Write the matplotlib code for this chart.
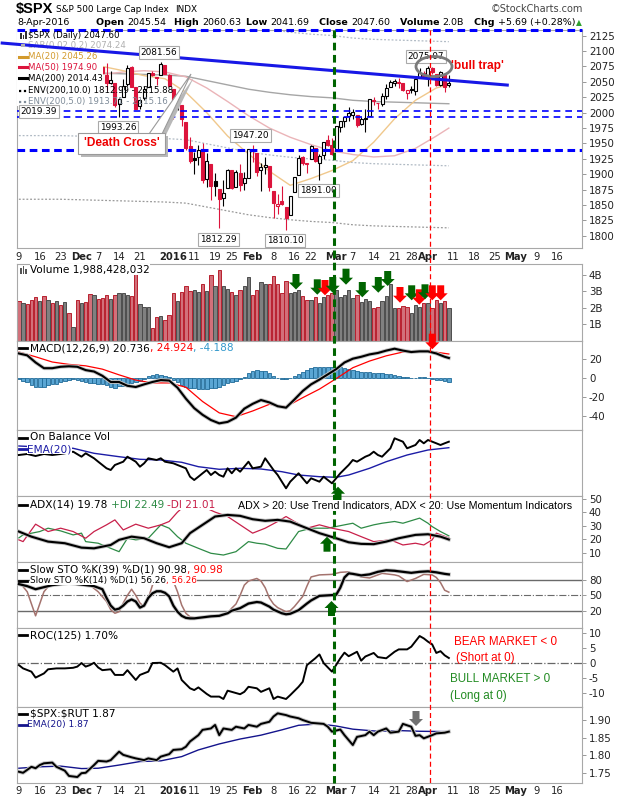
import matplotlib
matplotlib.use('Agg')
import matplotlib.pyplot as plt
import matplotlib.patches as mpatches
import matplotlib.transforms as mtransforms
import matplotlib.patheffects as pe
from matplotlib.lines import Line2D
import pandas as pd

plt.rcParams['font.family'] = ['DejaVu Sans']
plt.rcParams['axes.unicode_minus'] = False
plt.rcParams['text.parse_math'] = False

# ============================================================
# data  (session index 0 = 9-Nov-2015, 103 = 8-Apr-2016)
# ============================================================
holidays = pd.to_datetime(['2015-11-26', '2015-12-25', '2016-01-01', '2016-01-18',
                           '2016-02-15', '2016-03-25', '2016-05-30'])
sessions = pd.bdate_range('2015-11-09', '2016-05-31')
sessions = sessions[~sessions.isin(holidays)]

prev_close = 2099.20
opens = [2096.56, 2077.19, 2083.41, 2072.29, 2044.64, 2022.08, 2053.67, 2051.99, 2083.70, 2082.82,
         2089.41, 2084.42, 2089.30, 2088.82, 2090.95, 2082.93, 2101.71, 2080.71, 2051.24, 2090.42,
         2073.39, 2061.17, 2047.93, 2047.27, 2013.37, 2025.55, 2046.50, 2073.76, 2040.81, 2010.27,
         2023.15, 2042.20, 2063.52, 2057.77, 2060.54, 2077.34, 2060.59, 2038.20, 2013.78, 2011.71,
         1985.32, 1945.97, 1926.12, 1927.83, 1940.34, 1891.68, 1916.68, 1888.66, 1876.18, 1861.46,
         1877.40, 1906.28, 1878.79, 1902.52, 1885.22, 1894.00, 1936.94, 1935.26, 1907.07, 1911.67,
         1913.07, 1873.25, 1848.46, 1857.10, 1847.00, 1833.40, 1871.44, 1898.80, 1927.57, 1916.74,
         1924.44, 1942.38, 1917.56, 1931.87, 1954.95, 1947.13, 1937.09, 1976.60, 1985.60, 1994.01,
         1996.11, 1996.88, 1981.44, 1990.97, 1994.71, 2019.27, 2015.27, 2014.24, 2026.90, 2041.16,
         2047.88, 2048.64, 2048.55, 2032.48, 2037.89, 2035.75, 2058.27, 2063.77, 2056.62, 2073.19,
         2062.50, 2045.56, 2063.01, 2045.54]
highs = [2096.56, 2083.67, 2086.94, 2072.29, 2044.64, 2053.22, 2066.69, 2085.31, 2086.74, 2097.06,
         2095.61, 2094.12, 2093.00, 2093.29, 2093.81, 2103.37, 2104.27, 2085.00, 2093.84, 2090.42,
         2073.85, 2080.33, 2067.65, 2047.27, 2022.92, 2053.87, 2076.72, 2076.37, 2040.81, 2022.90,
         2042.74, 2064.73, 2067.36, 2057.77, 2081.56, 2077.34, 2062.54, 2038.20, 2021.94, 2011.71,
         1985.32, 1960.40, 1935.65, 1947.38, 1950.33, 1934.47, 1916.68, 1901.44, 1876.18, 1889.85,
         1908.85, 1906.28, 1906.73, 1916.99, 1902.96, 1940.24, 1947.20, 1935.26, 1918.01, 1927.35,
         1913.07, 1873.25, 1868.25, 1881.60, 1847.00, 1864.78, 1895.77, 1930.68, 1930.00, 1918.78,
         1946.70, 1942.38, 1932.08, 1951.83, 1962.96, 1958.27, 1978.35, 1986.51, 1993.69, 2009.13,
         2006.12, 1996.88, 1992.69, 2005.08, 2022.37, 2024.57, 2015.94, 2032.02, 2046.24, 2052.36,
         2053.91, 2056.60, 2048.55, 2036.04, 2042.67, 2055.91, 2072.21, 2067.92, 2075.07, 2074.02,
         2062.50, 2067.33, 2063.01, 2060.63]
lows = [2068.24, 2069.91, 2074.85, 2045.66, 2022.02, 2019.39, 2045.90, 2051.99, 2078.76, 2082.82,
        2081.39, 2070.29, 2086.30, 2084.13, 2080.41, 2082.93, 2077.11, 2042.35, 2051.24, 2066.78,
        2052.32, 2036.53, 2045.67, 2008.80, 1993.26, 2025.55, 2042.43, 2041.66, 2005.33, 2005.93,
        2020.49, 2042.20, 2058.73, 2044.20, 2060.54, 2061.97, 2043.62, 1989.68, 2004.17, 1979.05,
        1938.83, 1918.46, 1901.10, 1914.35, 1886.41, 1878.93, 1857.83, 1864.60, 1812.29, 1848.98,
        1877.40, 1875.97, 1878.79, 1872.70, 1873.65, 1894.00, 1920.03, 1897.29, 1872.23, 1900.52,
        1872.65, 1828.46, 1834.94, 1850.32, 1810.10, 1833.40, 1871.44, 1898.80, 1915.09, 1902.17,
        1924.44, 1919.44, 1891.00, 1925.41, 1945.78, 1931.81, 1937.09, 1968.80, 1977.37, 1986.77,
        1989.38, 1977.43, 1979.84, 1969.25, 1994.71, 2012.05, 2005.23, 2010.04, 2022.16, 2041.16,
        2043.14, 2040.57, 2034.86, 2022.49, 2031.96, 2028.31, 2058.27, 2057.46, 2043.98, 2062.57,
        2042.56, 2043.09, 2033.80, 2041.69]
closes = [2078.58, 2081.72, 2075.00, 2045.97, 2023.04, 2053.19, 2050.44, 2083.58, 2081.24, 2089.17,
          2086.59, 2089.14, 2088.87, 2090.11, 2080.41, 2102.63, 2079.51, 2049.62, 2091.69, 2077.07,
          2063.59, 2047.62, 2052.23, 2012.37, 2021.94, 2043.41, 2073.07, 2041.89, 2005.55, 2021.15,
          2038.97, 2064.29, 2060.99, 2056.50, 2078.36, 2063.36, 2043.94, 2012.66, 2016.71, 1990.26,
          1943.09, 1922.03, 1923.67, 1938.68, 1890.28, 1921.84, 1880.33, 1881.33, 1859.33, 1868.99,
          1906.90, 1877.08, 1903.63, 1882.95, 1893.36, 1940.24, 1939.38, 1903.03, 1912.53, 1915.45,
          1880.05, 1853.44, 1852.21, 1851.86, 1829.08, 1864.78, 1895.58, 1926.82, 1917.83, 1917.78,
          1945.50, 1921.27, 1929.80, 1951.70, 1948.05, 1932.23, 1978.35, 1986.45, 1993.40, 1999.99,
          2001.76, 1979.26, 1989.26, 1989.57, 2022.19, 2019.64, 2015.93, 2027.22, 2040.59, 2049.58,
          2051.60, 2049.80, 2036.71, 2035.94, 2037.05, 2055.01, 2063.95, 2059.74, 2072.78, 2066.13,
          2045.17, 2066.66, 2041.91, 2047.60]
volume_b = [2.42, 2.32, 2.21, 2.47, 2.67, 2.42, 2.74, 2.47, 2.30, 2.42,
            2.18, 2.34, 1.66, 0.85, 2.47, 2.28, 2.38, 2.84, 2.78, 2.53,
            2.59, 2.78, 2.53, 2.78, 2.88, 2.92, 2.78, 2.70, 4.04, 2.22,
            2.03, 2.03, 0.81, 1.43, 1.49, 1.28, 1.55, 2.90, 2.42, 2.94,
            3.30, 3.00, 3.05, 2.94, 3.46, 3.00, 3.98, 3.30, 4.29, 3.30,
            3.15, 2.94, 2.78, 3.09, 3.30, 3.83, 2.78, 3.09, 3.56, 3.42,
            3.42, 3.92, 3.42, 2.90, 3.63, 2.90, 2.94, 3.09, 2.74, 2.47,
            2.47, 2.67, 2.28, 2.63, 2.78, 2.88, 3.09, 2.67, 2.78, 3.09,
            2.59, 2.78, 2.36, 2.53, 2.42, 2.01, 2.07, 2.42, 2.69, 3.46,
            1.97, 1.97, 2.11, 2.07, 1.66, 2.18, 2.07, 2.26, 2.28, 2.01,
            2.47, 2.28, 2.42, 1.988428032]

ma_days = [0, 5, 10, 15, 20, 25, 30, 35, 40, 45, 50, 55, 60, 65, 70, 75, 80, 85, 90, 95, 100, 103]
ma20 = [2062, 2068, 2075, 2078, 2075, 2068, 2060, 2055, 2033, 2000, 1962, 1933, 1905, 1882,
        1893, 1906, 1922, 1952, 1990, 2020, 2040, 2045.26]
ma50 = [2020, 2032, 2045, 2055, 2062, 2066, 2068, 2066, 2058, 2040, 2018, 1995, 1975, 1960,
        1948, 1938, 1932, 1928, 1930, 1942, 1962, 1974.90]
ma200 = [2066, 2066, 2066, 2065, 2064, 2063, 2062, 2061, 2059, 2052, 2045, 2038, 2033, 2029,
         2026, 2024, 2020, 2018, 2017, 2016, 2015, 2014.434]
env_pcts = [10.0, 5.0]
sar_last = 2074.24

macd_days = list(range(0, 104, 2)) + [103]
macd_line = [25.5, 23.5, 16.0, 10.0, 10.0, 11.5, 12.0, 11.5, 8.0, 6.5, 2.0, -4.5, -4.5, -8.5,
             -9.8, -7.0, -4.5, -2.5, -3.0, -10.5, -22.0, -32.0, -39.0, -44.5, -48.0, -46.5,
             -42.0, -32.6, -27.5, -23.5, -26.0, -30.0, -31.5, -23.0, -14.0, -7.0, -2.0, 3.5,
             9.0, 16.0, 20.0, 22.0, 24.5, 26.0, 28.5, 30.5, 28.5, 27.0, 27.7, 27.7, 25.5, 22.0,
             20.736]
signal_days = list(range(0, 104, 4)) + [103]
signal_line = [27, 22, 16.5, 14, 12.5, 9, 3, -2.5, -5.5, -5.5, -10, -25, -37, -41, -35, -28,
               -30.5, -21, -12, -1, 10.5, 17.5, 23, 27, 27.7, 26.8, 24.924]
macd_hist = [-1.5, -3, -5, -7.5, -9.5, -10, -9.5, -8, -7, -6.5,
             -5, -3.5, -2, -1.5, -2, -3, -4, -5.5, -6, -6.5,
             -7, -8, -10, -10.5, -9, -8.5, -8, -6, -4.5, -3,
             -1, 1.5, 2.5, 3.5, 3, 1.5, 0.5, -2, -5, -8,
             -10, -10.5, -11, -11.5, -12, -11.5, -11, -10.5, -10, -8,
             -6, -4.5, -3, -1.5, 1, 5, 7.5, 8, 7.5, 7.5,
             5, 1.5, -0.5, -1, -1, 0, 2, 4, 6.5, 8.5,
             10, 11, 11, 11.5, 11.5, 11, 10.5, 11, 10, 9,
             8.5, 7, 6.5, 6, 6, 5, 4.5, 4.5, 4, 3.5,
             3, 1.5, 1, 0.5, 0, 0, 0.5, 0.5, 0, -1.5,
             -2, -2.5, -3.5, -4.188]

# on balance volume (relative units, the panel has no scale)
obv_days = [0, 2, 4, 6, 8, 10, 11, 13, 15, 16, 18, 19, 21, 22, 23, 25, 26, 28, 29, 30,
            31, 33, 34, 35, 37, 38, 40, 41, 42, 43, 44, 45, 46, 47, 48, 49, 50, 51, 52, 53,
            55, 56, 58, 59, 61, 62, 63, 64, 65, 67, 68, 69, 70, 72, 73, 74, 75, 76, 77, 79,
            80, 81, 83, 84, 85, 86, 87, 89, 90, 92, 93, 95, 96, 97, 98, 100, 101, 102, 103]
obv = [41, 42, 40, 42, 41, 42, 42.7, 44.3, 39.3, 42.7, 37.7, 34.3, 27.7, 26, 31, 34.3, 39.3,
       34.3, 29.3, 32.7, 37.7, 36, 37.7, 34.3, 32.7, 31, 27.7, 19.3, 16, 19.3, 22.7, 26, 21,
       24.3, 21, 19.3, 27.7, 22.7, 27.7, 24.3, 34.3, 27.7, 29.3, 37.7, 26, 21, 14.3, 7.7, 14.3,
       22.7, 17.7, 12.7, 17.7, 14.3, 19.3, 16, 12.7, 17.7, 22.7, 31, 36, 34.3, 39.3, 41, 44.3,
       41, 39.3, 47.7, 57.7, 54.3, 47.7, 51, 56, 52.7, 56, 52.7, 51, 52.7, 54.3]
obv_ema_days = [0, 5, 10, 13, 18, 24, 29, 34, 39, 43, 48, 53, 58, 63, 67, 72, 76, 79, 84, 88,
                93, 98, 103]
obv_ema = [50, 49, 48.5, 47.7, 42.7, 39.3, 36.7, 36, 33.7, 29.3, 26.7, 27.7, 27, 24.3, 21,
           19.3, 18.7, 21, 27.7, 34.3, 41, 46, 48.3]

adx_days = [0, 3, 7, 11, 15, 18, 22, 24, 27, 30, 33, 36, 39, 41, 44, 47, 50, 53, 56, 59, 62,
            65, 68, 72, 76, 79, 82, 85, 88, 91, 95, 98, 101, 103]
adx = [25.7, 21.9, 18.2, 17.0, 13.7, 13.2, 15.7, 19.5, 21.9, 20.7, 17.0, 14.0, 17.0, 24.5,
       30.7, 36.9, 38.1, 37.4, 34.9, 33.7, 34.4, 33.1, 29.4, 24.5, 20.7, 17.7, 16.5, 16.3,
       18.2, 20.7, 23.2, 23.7, 21.9, 19.78]
pdi_days = [0, 1, 5, 7, 10, 13, 15, 16, 19, 22, 24, 26, 28, 31, 34, 36, 38, 40, 43, 46, 49,
            52, 55, 57, 59, 62, 64, 67, 70, 74, 78, 80, 82, 85, 87, 90, 92, 96, 98, 99, 101, 103]
pdi = [21, 23.2, 25.7, 28.2, 26.2, 23.2, 24.5, 18.2, 17.0, 13.2, 10.7, 20.7, 19.5, 20.7, 30.7,
       28.2, 21.9, 17.0, 13.2, 9.5, 8.2, 10.7, 18.2, 17.0, 16.3, 13.2, 12.7, 25.7, 28.2, 28.2,
       30.7, 31.9, 28.2, 30.7, 31.9, 33.2, 31.9, 35.7, 31.9, 29.4, 25.7, 22.49]
mdi_days = [0, 1, 4, 7, 10, 13, 16, 18, 21, 23, 25, 28, 31, 34, 36, 38, 40, 41, 44, 47, 50,
            53, 56, 59, 62, 64, 66, 69, 72, 75, 79, 82, 85, 89, 92, 95, 97, 99, 100, 103]
mdi = [19.5, 18.2, 31.2, 25.7, 28.2, 25.7, 20.7, 25.7, 30.7, 34.4, 26.9, 31.2, 28.2, 30.7,
       33.2, 40.2, 45.7, 48.7, 44.4, 40.2, 36.9, 30.7, 24.5, 28.2, 33.2, 36.9, 33.2, 28.2,
       30.7, 28.2, 25.7, 21.9, 18.2, 19.5, 15.7, 17.0, 15.7, 19.5, 24.5, 21.01]

sto39_days = [0, 2, 4, 6, 8, 10, 12, 14, 16, 18, 20, 21, 22, 23, 24, 25, 26, 27, 28, 29, 30,
              31, 32, 33, 34, 35, 36, 37, 38, 39, 40, 41, 42, 44, 46, 48, 50, 51, 53, 55, 57,
              58, 60, 61, 63, 64, 65, 67, 69, 70, 72, 74, 76, 77, 78, 79, 80, 82, 84, 86, 88,
              90, 92, 94, 96, 98, 100, 102, 103]
sto39 = [72, 68, 62, 66, 70, 72, 74, 72, 70, 68, 62, 45, 30, 22, 24, 30, 38, 42, 38, 26, 30,
         45, 54, 58, 58, 55, 48, 30, 18, 10, 6, 5, 5, 7, 9, 10, 15, 20, 25, 34, 37,
         36, 28, 22, 15, 13, 14, 21, 34, 40, 49, 50, 51, 65, 85, 93, 92, 89, 91, 96, 99,
         98, 96, 94, 96, 97, 95, 92, 90.98]
sto14_days = [0, 2, 4, 6, 8, 10, 12, 14, 16, 17, 19, 21, 22, 23, 24, 25, 26, 27, 28, 29, 30,
              31, 32, 33, 35, 37, 38, 39, 40, 41, 43, 46, 48, 50, 51, 52, 53, 54, 55, 57, 58,
              59, 60, 61, 62, 64, 65, 66, 67, 68, 69, 70, 72, 75, 77, 79, 80, 82, 84, 86, 87,
              90, 91, 93, 95, 97, 99, 100, 101, 102, 103]
sto14 = [77, 57, 10, 57, 77, 83, 85, 80, 75, 70, 57, 38, 22, 15, 18, 35, 50, 62, 50, 35, 28,
         44, 70, 80, 83, 78, 57, 31, 15, 8, 5, 8, 11, 15, 25, 33, 50, 70, 78, 83, 78,
         65, 45, 33, 26, 18, 20, 28, 38, 48, 68, 86, 90, 91, 95, 96, 92, 86, 84, 90, 93,
         90, 88, 77, 83, 91, 90, 85, 75, 60, 56.26]

roc_days = [0, 1, 3, 4, 6, 7, 9, 11, 13, 14, 15, 16, 17, 18, 19, 20, 22, 23, 25, 26, 28, 29,
            31, 32, 34, 35, 37, 38, 39, 41, 42, 43, 45, 46, 48, 49, 50, 51, 53, 54, 55, 57,
            58, 60, 61, 62, 64, 65, 67, 68, 69, 71, 72, 73, 75, 77, 78, 79, 81, 82, 83, 85,
            86, 88, 90, 91, 93, 94, 96, 97, 98, 99, 100, 101, 102, 103]
roc = [-0.7, -1.8, -2.9, -4.9, -3.5, -2.1, -1.8, -1.8, -1.6, -1.2, 0, -1.2, -0.7, 0.1, -1.5,
       -2.4, -2.1, -4.0, -4.0, -2.4, -5.7, -4.0, -2.9, 0, 0.1, -0.7, -2.9, -1.8, -5.7, -8.5,
       -9.1, -8.2, -10.4, -11.3, -11.3, -12.1, -9.3, -9.7, -10.5, -9.7, -8.0, -8.5, -9.7,
       -8.5, -12.1, -11.3, -12.1, -10.8, -8.0, -6.3, -0.7, 1.6, 2.9, 0, -2.9, 1.6, 3.5, 2.3,
       3.8, 0.8, 2.2, 3.4, 2.0, 1.6, 3.8, 4.6, 4.6, 5.5, 9.1, 8.3, 7.2, 6.3, 3.4, 4.0, 2.6,
       1.70]

ratio_days = [0, 1, 3, 4, 5, 6, 8, 9, 11, 12, 14, 15, 16, 18, 19, 21, 22, 24, 25, 27, 28, 30,
              31, 33, 34, 36, 37, 39, 40, 41, 43, 44, 46, 47, 48, 49, 51, 52, 54, 55, 57, 58,
              60, 61, 62, 64, 65, 67, 68, 70, 71, 73, 74, 75, 77, 78, 80, 81, 83, 84, 85, 86,
              88, 89, 91, 92, 94, 95, 96, 97, 99, 100, 102, 103]
ratio = [1.753, 1.750, 1.767, 1.763, 1.772, 1.777, 1.779, 1.767, 1.756, 1.741, 1.738, 1.749,
         1.750, 1.772, 1.784, 1.782, 1.786, 1.810, 1.801, 1.794, 1.791, 1.786, 1.791, 1.786,
         1.796, 1.803, 1.815, 1.817, 1.824, 1.839, 1.857, 1.872, 1.876, 1.886, 1.857, 1.876,
         1.872, 1.881, 1.876, 1.886, 1.881, 1.889, 1.895, 1.910, 1.919, 1.914, 1.910, 1.905,
         1.900, 1.892, 1.891, 1.889, 1.881, 1.867, 1.873, 1.857, 1.829, 1.852, 1.857, 1.867,
         1.857, 1.867, 1.876, 1.864, 1.867, 1.889, 1.881, 1.855, 1.857, 1.848, 1.857, 1.862,
         1.864, 1.867]
ratio_ema_days = [0, 5, 10, 15, 19, 24, 29, 34, 39, 43, 48, 53, 58, 63, 67, 72, 76, 80, 86,
                  91, 96, 103]
ratio_ema = [1.763, 1.767, 1.769, 1.762, 1.763, 1.772, 1.782, 1.784, 1.796, 1.815, 1.832,
             1.846, 1.857, 1.872, 1.885, 1.889, 1.883, 1.874, 1.868, 1.870, 1.868, 1.867]

# annotations taken from the chart
hi_marks = ['2015-12-29', '2016-02-01', '2016-04-01']
lo_marks = ['2015-11-16', '2015-12-14', '2016-01-20', '2016-02-11', '2016-02-24']
trend_x = [-4.0, 117.0]
trend_y = [2112.9, 2044.7]
tick_dates = ['2015-11-09', '2015-11-16', '2015-11-23', '2015-12-01', '2015-12-07',
              '2015-12-14', '2015-12-21', '2016-01-04', '2016-01-11', '2016-01-19',
              '2016-01-25', '2016-02-01', '2016-02-08', '2016-02-16', '2016-02-22',
              '2016-03-01', '2016-03-07', '2016-03-14', '2016-03-21', '2016-03-28',
              '2016-04-01', '2016-04-11', '2016-04-18', '2016-04-25', '2016-05-02',
              '2016-05-09', '2016-05-16']
tick_text = ['9', '16', '23', 'Dec', '7', '14', '21', '2016', '11', '19', '25', 'Feb', '8',
             '16', '22', 'Mar', '7', '14', '21', '28', 'Apr', '11', '18', '25', 'May', '9', '16']
bold_ticks = {'Dec', '2016', 'Feb', 'Mar', 'Apr', 'May'}

# ============================================================
# layout helpers (pixel coordinates of a 620x800 picture)
# ============================================================
W, H = 620, 800
fig = plt.figure(figsize=(W / 100, H / 100), dpi=100)
fig.patch.set_facecolor('white')
renderer = fig.canvas.get_renderer()

RED = '#dc143c'
GREEN = '#006400'
X0, X1 = 16.8, 582.0
XLIM = (-0.5, 134.9)


def P(x, y):
    return (x / W, 1 - y / H)


def day(d):
    return sessions.get_loc(pd.Timestamp(d))


def panel(top, bottom, ylim, yticks, ylabels=None):
    ax = fig.add_axes([X0 / W, 1 - bottom / H, (X1 - X0) / W, (bottom - top) / H])
    ax.set_xlim(*XLIM)
    ax.set_ylim(*ylim)
    ax.set_xticks([])
    ax.yaxis.tick_right()
    ax.set_yticks(yticks)
    if ylabels is not None:
        ax.set_yticklabels(ylabels)
    ax.tick_params(axis='y', labelsize=7.4, length=3, width=0.6, color='#888888',
                   labelcolor='#222222', pad=2)
    for s in ax.spines.values():
        s.set_color('#a8a8a8')
        s.set_linewidth(0.8)
    return ax


def rich(x, y, parts, size=7.6, family=None, z=7, box=True):
    for s, col, wt in parts:
        kw = dict(color=col, fontsize=size, fontweight=wt, va='center', ha='left', zorder=z)
        if family:
            kw['family'] = family
        if box:
            kw['bbox'] = dict(fc='white', ec='none', pad=0.3)
        t = fig.text(*P(x, y), s, **kw)
        x += t.get_window_extent(renderer).width
    return x


def leg_mark(x, y, color='black', ls='-', lw=2.0, x2=None):
    x2 = x + 7 if x2 is None else x2
    fig.add_artist(Line2D([x / W, x2 / W], [1 - y / H, 1 - y / H], color=color, lw=lw,
                          ls=ls, transform=fig.transFigure, zorder=8))


def arrow(xc, y_tail, y_tip, color, z=4):
    d = 1 if y_tip > y_tail else -1
    hw, sw, hl = 7, 3.5, 7
    yb = y_tip - d * hl
    pts = [(xc - sw, y_tail), (xc + sw, y_tail), (xc + sw, yb), (xc + hw, yb),
           (xc, y_tip), (xc - hw, yb), (xc - sw, yb)]
    fig.add_artist(mpatches.Polygon([P(*p) for p in pts], closed=True,
                                    transform=fig.transFigure, facecolor=color,
                                    edgecolor='none', zorder=z))


halo = [pe.withStroke(linewidth=2.8, foreground='#c4c4c4')]
n = len(closes)
days = list(range(n))

# ============================================================
# price panel
# ============================================================
ax_p = panel(29.5, 248.3, (1779.8, 2134.9), list(range(1800, 2126, 25)))

env_lo10 = [v * (1 - env_pcts[0] / 100) for v in ma200]
env_hi10 = [v * (1 + env_pcts[0] / 100) for v in ma200]
env_lo5 = [v * (1 - env_pcts[1] / 100) for v in ma200]
env_hi5 = [v * (1 + env_pcts[1] / 100) for v in ma200]
ax_p.plot(ma_days, env_lo10, color='#999999', lw=0.9, ls=(0, (1.5, 1.5)), zorder=2)
ax_p.plot(ma_days, env_lo5, color='#b0bac4', lw=0.9, ls=(0, (1.5, 1.5)), zorder=2)
ax_p.plot(ma_days, env_hi5, color='#b0bac4', lw=0.9, ls=(0, (1.5, 1.5)), zorder=2)
ax_p.plot(ma_days, ma200, color='#a6a6a6', lw=1.0, zorder=2)
ax_p.plot(ma_days, ma50, color='#ebb4b8', lw=1.0, zorder=2)
ax_p.plot(ma_days, ma20, color='#f0c88c', lw=1.0, zorder=2)

for i in days:
    o, h, l, c = opens[i], highs[i], lows[i], closes[i]
    pc = closes[i - 1] if i else prev_close
    col = RED if c < pc else 'black'
    ax_p.plot([i, i], [l, h], color=col, lw=0.8, zorder=3, solid_capstyle='butt')
    ax_p.add_patch(mpatches.Rectangle((i - 0.36, min(o, c)), 0.72, max(abs(c - o), 0.5),
                                      facecolor=col if c < o else 'white', edgecolor=col,
                                      lw=0.8, zorder=4))

# horizontal levels and trend line
ax_p.axhline(2134.72, color='#0000ff', lw=2.2, ls=(0, (2.5, 1.5)), zorder=6, clip_on=False)
ax_p.axhline(2002.0, color='#0000ff', lw=1.2, ls=(0, (4, 3)), zorder=6)
ax_p.axhline(1993.26, color='#0000ff', lw=1.2, ls=(0, (4, 3)), zorder=6)
ax_p.axhline(1940.0, color='#0000ff', lw=2.2, ls=(0, (2.5, 1.5)), zorder=6)

# legend block (white backing hides the oldest bars)
ax_p.add_patch(mpatches.Rectangle(P(17.3, 106), (103 - 17.3) / W, 76 / H,
                                  transform=fig.transFigure, facecolor='white',
                                  edgecolor='none', zorder=5))
ax_p.plot(trend_x, trend_y, color='#1818e6', lw=2.2, zorder=6.5, clip_on=False)

price_legend = [
    (35.0, f'$SPX (Daily) {closes[-1]:.2f}', 'black', 'icon'),
    (45.3, f'SAR(0.02,0.2) {sar_last:.2f}', '#b0b0b0', 'sq'),
    (56.5, f'MA(20) {ma20[-1]:.2f}', '#d39a2c', '-'),
    (67.3, f'MA(50) {ma50[-1]:.2f}', RED, '-'),
    (78.3, f'MA(200) {ma200[-1]:.2f}', 'black', '-'),
    (90.8, f'ENV(200,10.0) {env_lo10[-1]:.2f} - {env_hi10[-1]:.2f}', 'black', ':'),
    (101.5, f'ENV(200,5.0) {env_lo5[-1]:.2f} - {env_hi5[-1]:.2f}', '#7f8c99', ':'),
]
for y, s, col, mk in price_legend:
    ax_p.text(*P(28, y), s, transform=fig.transFigure, fontsize=6.2, color=col,
              va='center', ha='left', zorder=6)
    if mk == '-':
        leg_mark(19.5, y, col, lw=2.2)
    elif mk == ':':
        leg_mark(19.5, y, col, ls=(0, (1, 1.2)), lw=1.6)
    elif mk == 'sq':
        fig.add_artist(mpatches.Rectangle(P(21, y + 2), 3.5 / W, 3.5 / H,
                                          transform=fig.transFigure, fc='#b0b0b0',
                                          ec='none', zorder=8))
    else:
        for bh, bx in [(6, 20), (4, 22.5), (7, 25)]:
            fig.add_artist(mpatches.Rectangle(P(bx, y + 3.5), 1.6 / W, bh / H,
                                              transform=fig.transFigure, fc='#333333',
                                              ec='none', zorder=8))

# price call-outs
box_style = dict(boxstyle='square,pad=0.22', fc='white', ec='#aaaaaa', lw=0.8)
for d in hi_marks:
    i = day(d)
    ax_p.annotate(f'{highs[i]:.2f}', (i, highs[i]), xytext=(-2, 10),
                  textcoords='offset pixels', ha='center', va='center', fontsize=6.4,
                  bbox=box_style, zorder=8)
for d in lo_marks:
    i = day(d)
    ax_p.annotate(f'{lows[i]:.2f}', (i, lows[i]), xytext=(-1, -11),
                  textcoords='offset pixels', ha='center', va='center', fontsize=6.4,
                  bbox=box_style, zorder=8, annotation_clip=False)

# 'Death Cross' call-out
for dx, fc, ec in [(3, '#b8b8b8', 'none'), (0, 'white', '#9a9a9a')]:
    ax_p.add_patch(mpatches.Polygon([P(149 + dx, 134 + dx), P(162 + dx, 134 + dx),
                                     P(191 + dx, 74 + dx)], closed=True,
                                    transform=fig.transFigure, fc=fc, ec=ec, lw=0.8,
                                    zorder=8))
    ax_p.add_patch(mpatches.Rectangle(P(78 + dx, 154 + dx), 87 / W, 21 / H,
                                      transform=fig.transFigure, fc=fc, ec=ec, lw=0.8,
                                      zorder=8))
ax_p.text(*P(121.5, 143.5), "'Death Cross'", transform=fig.transFigure, color='#ee0000',
          fontsize=8.6, fontweight='bold', family='Liberation Sans', ha='center',
          va='center', zorder=9)

# 'bull trap'
ax_p.add_patch(mpatches.Ellipse(P(434, 66.5), 36 / W, 20 / H, transform=fig.transFigure,
                                fc='none', ec='#7a7a7a', lw=2.0, zorder=9))
ax_p.text(*P(451, 66.5), "'bull trap'", transform=fig.transFigure, color='#ee0000',
          fontsize=8.6, fontweight='bold', family='Liberation Sans', ha='left',
          va='center', zorder=9)

# ============================================================
# volume
# ============================================================
ax_v = panel(264, 341, (0, 4.64), [1, 2, 3, 4], ['1B', '2B', '3B', '4B'])
prev = [prev_close] + closes[:-1]
down = [c < p for c, p in zip(closes, prev)]
ax_v.bar(days, volume_b, width=0.8,
         color=['#d2707a' if dn else '#808080' for dn in down],
         edgecolor=['#b8202e' if dn else '#4d4d4d' for dn in down], lw=0.7, zorder=2)
for bx, bh in [(20, 6), (22.5, 8), (25, 5)]:
    fig.add_artist(mpatches.Rectangle(P(bx, 273.5), 1.7 / W, bh / H,
                                      transform=fig.transFigure, fc='#555555', ec='none',
                                      zorder=8))
rich(30, 269.5, [(f'Volume {round(volume_b[-1] * 1e9):,}', 'black', 'normal')], size=7.6)

# ============================================================
# MACD
# ============================================================
ax_m = panel(341, 430, (-55, 38.6), [-40, -20, 0, 20])
ax_m.bar(days, macd_hist, width=0.85, color='#5aa6d4', edgecolor='#1f6a98', lw=0.6,
         zorder=2)
ax_m.plot(signal_days, signal_line, color='#ff0000', lw=0.9, zorder=3)
ax_m.plot(macd_days, macd_line, color='black', lw=1.5, zorder=4, path_effects=halo)
leg_mark(19.5, 348.5)
rich(30, 348.5, [(f'MACD(12,26,9) {macd_line[-1]:.3f}', 'black', 'normal'),
                 (f', {signal_line[-1]:.3f}', '#ff0000', 'normal'),
                 (f', {macd_hist[-1]:.3f}', '#3399cc', 'normal')])

# ============================================================
# On Balance Volume
# ============================================================
ax_o = panel(430, 496, (0, 66), [])
ax_o.plot(obv_ema_days, obv_ema, color='#1c1ca6', lw=1.0, zorder=2)
ax_o.plot(obv_days, obv, color='black', lw=1.4, zorder=3)
leg_mark(19.5, 437.5)
rich(30, 437.5, [('On Balance Vol', 'black', 'normal')])
leg_mark(19.5, 449, '#1c1ca6')
rich(27, 449, [('EMA(20)', '#1c1ca6', 'normal')])

# ============================================================
# ADX
# ============================================================
ax_a = panel(496, 562, (3.0, 52.2), [10, 20, 30, 40, 50])
ax_a.plot(pdi_days, pdi, color='#2e8b46', lw=0.9, zorder=2)
ax_a.plot(mdi_days, mdi, color='#c8204a', lw=0.9, zorder=2)
ax_a.plot(adx_days, adx, color='black', lw=1.5, zorder=3, path_effects=halo)
leg_mark(19.5, 504.5)
rich(30, 504.5, [(f'ADX(14) {adx[-1]:.2f} ', 'black', 'normal'),
                 (f'+DI {pdi[-1]:.2f} ', '#2e8b46', 'normal'),
                 (f'-DI {mdi[-1]:.2f}', '#c8204a', 'normal')])
fig.text(*P(238, 505.5), 'ADX > 20: Use Trend Indicators, ADX < 20: Use Momentum Indicators',
         family='Liberation Sans', fontsize=7.7, va='center', ha='left', zorder=5,
         bbox=dict(fc='white', ec='none', pad=0.4))

# ============================================================
# Slow stochastics
# ============================================================
ax_s = panel(562, 628, (-13.8, 115.2), [20, 50, 80])
ax_s.axhline(80, color='#6a6a6a', lw=1.0, zorder=1)
ax_s.axhline(20, color='#6a6a6a', lw=1.0, zorder=1)
ax_s.axhline(50, color='#6a6a6a', lw=0.8, ls='-.', zorder=1)
ax_s.plot(sto14_days, sto14, color='#a4736e', lw=1.1, zorder=2)
ax_s.plot(sto39_days, sto39, color='black', lw=1.6, zorder=3, path_effects=halo)
leg_mark(19.5, 570)
rich(30, 570, [(f'Slow STO %K(39) %D(1) {sto39[-1]:.2f}', 'black', 'normal'),
               (f', {sto39[-1]:.2f}', '#ff0000', 'normal')], size=7.4)
leg_mark(19.5, 580.5)
rich(30, 580.5, [(f'Slow STO %K(14) %D(1) {sto14[-1]:.2f}', 'black', 'normal'),
                 (f', {sto14[-1]:.2f}', '#ff0000', 'normal')], size=6.4)

# ============================================================
# ROC
# ============================================================
ax_r = panel(628, 707, (-14.8, 11.8), [-10, -5, 0, 5, 10])
ax_r.axhline(0, color='#666666', lw=0.9, ls='-.', zorder=1)
ax_r.plot(roc_days, roc, color='black', lw=1.4, zorder=3)
leg_mark(19.5, 635)
rich(30, 635, [(f'ROC(125) {roc[-1]:.2f}%', 'black', 'normal')])
for x, y, s, col in [(454, 642, 'BEAR MARKET < 0', '#ff0000'),
                     (456, 657.5, '(Short at 0)', '#ff0000'),
                     (450, 679.5, 'BULL MARKET > 0', '#228b22'),
                     (450, 696, '(Long at 0)', '#228b22')]:
    fig.text(*P(x, y), s, color=col, family='Liberation Sans', fontsize=8.4,
             va='center', ha='left', zorder=5)

# ============================================================
# $SPX:$RUT
# ============================================================
ax_q = panel(707, 783, (1.721, 1.937), [1.75, 1.80, 1.85, 1.90],
             ['1.75', '1.80', '1.85', '1.90'])
ax_q.plot(ratio_ema_days, ratio_ema, color='#14148c', lw=1.0, zorder=2)
ax_q.plot(ratio_days, ratio, color='black', lw=1.4, zorder=3, path_effects=halo)
leg_mark(19.5, 713.5)
rich(30, 713.5, [(f'$SPX:$RUT {ratio[-1]:.2f}', 'black', 'normal')])
leg_mark(19.5, 725, '#14148c')
rich(27, 725, [(f'EMA(20) {ratio_ema[-1]:.2f}', '#14148c', 'normal')], size=6.6)

# ============================================================
# date rows
# ============================================================
for ax, ypx in [(ax_p, 256.5), (ax_q, 791.5)]:
    tr = mtransforms.blended_transform_factory(ax.transData, fig.transFigure)
    for d, s in zip(tick_dates, tick_text):
        ax.text(day(d), 1 - ypx / H, s, transform=tr, ha='center', va='center',
                fontsize=7.2, fontweight='bold' if s in bold_ticks else 'normal',
                color='#222222', clip_on=False)

# ============================================================
# signal lines and arrows across panels
# ============================================================
tr = mtransforms.blended_transform_factory(ax_p.transData, fig.transFigure)
fig.add_artist(Line2D([day('2016-03-01') - 0.4] * 2, [1 - 30 / H, 1 - 783 / H], transform=tr,
                      color=GREEN, lw=2.2, ls=(0, (2.5, 1.5)), zorder=2))
fig.add_artist(Line2D([day('2016-04-01') + 0.6] * 2, [1 - 30 / H, 1 - 783 / H], transform=tr,
                      color='#ff0000', lw=0.9, ls=(0, (4, 2.5)), zorder=2))

for x, yt, yp, col in [(296, 274, 289.5, GREEN), (317.3, 279.3, 294.7, GREEN),
                       (325, 280, 295.3, '#ff0000'), (332.7, 277, 292.7, GREEN),
                       (346, 268.7, 284.7, GREEN), (362.3, 282, 297.3, GREEN),
                       (378.3, 277, 292.7, GREEN), (387.7, 271, 286, GREEN),
                       (400, 287, 302.7, '#ff0000'), (411.7, 285.3, 300.3, GREEN),
                       (419.3, 289.3, 304.7, '#ff0000'), (425, 284.3, 299.3, GREEN),
                       (432.3, 285.3, 300.3, '#ff0000'), (440.7, 285.3, 300.3, '#ff0000'),
                       (432.3, 333.7, 349.3, '#ff0000'), (416, 711, 726, '#707070'),
                       (338, 501.7, 486.7, GREEN), (327, 551.7, 536.7, GREEN),
                       (331.5, 616, 601, GREEN)]:
    arrow(x, yt, yp, col)

# ============================================================
# header
# ============================================================
xe = rich(16, 9.5, [('$SPX', 'black', 'bold')], size=10.5, family='Liberation Sans', box=False)
xe = rich(xe + 3, 10, [('S&P 500 Large Cap Index', 'black', 'normal')], size=6.4, box=False)
rich(xe + 6, 10, [('INDX', 'black', 'normal')], size=6.4, box=False)
fig.text(*P(583, 9.5), '\u00a9StockCharts.com', fontsize=7, color='#444444', va='center',
         ha='right')
chg = closes[-1] - closes[-2]
row2 = [(17, [('8-Apr-2016', 'normal')]),
        (96, [('Open ', 'bold'), (f'{opens[-1]:.2f}', 'normal')]),
        (174, [('High ', 'bold'), (f'{highs[-1]:.2f}', 'normal')]),
        (246, [('Low ', 'bold'), (f'{lows[-1]:.2f}', 'normal')]),
        (319, [('Close ', 'bold'), (f'{closes[-1]:.2f}', 'normal')]),
        (400, [('Volume ', 'bold'), (f'{volume_b[-1]:.1f}B', 'normal')]),
        (474, [('Chg ', 'bold'), (f'+{chg:.2f} (+{chg / closes[-2] * 100:.2f}%)', 'normal')])]
for x, parts in row2:
    rich(x, 22.5, [(s, 'black', wt) for s, wt in parts], size=6.8, box=False)
fig.text(*P(579, 22.5), '\u25b2', color='#2ea02e', fontsize=5.5, va='center', ha='center')

fig.savefig('out.png', dpi=100, facecolor='white')
plt.close(fig)
